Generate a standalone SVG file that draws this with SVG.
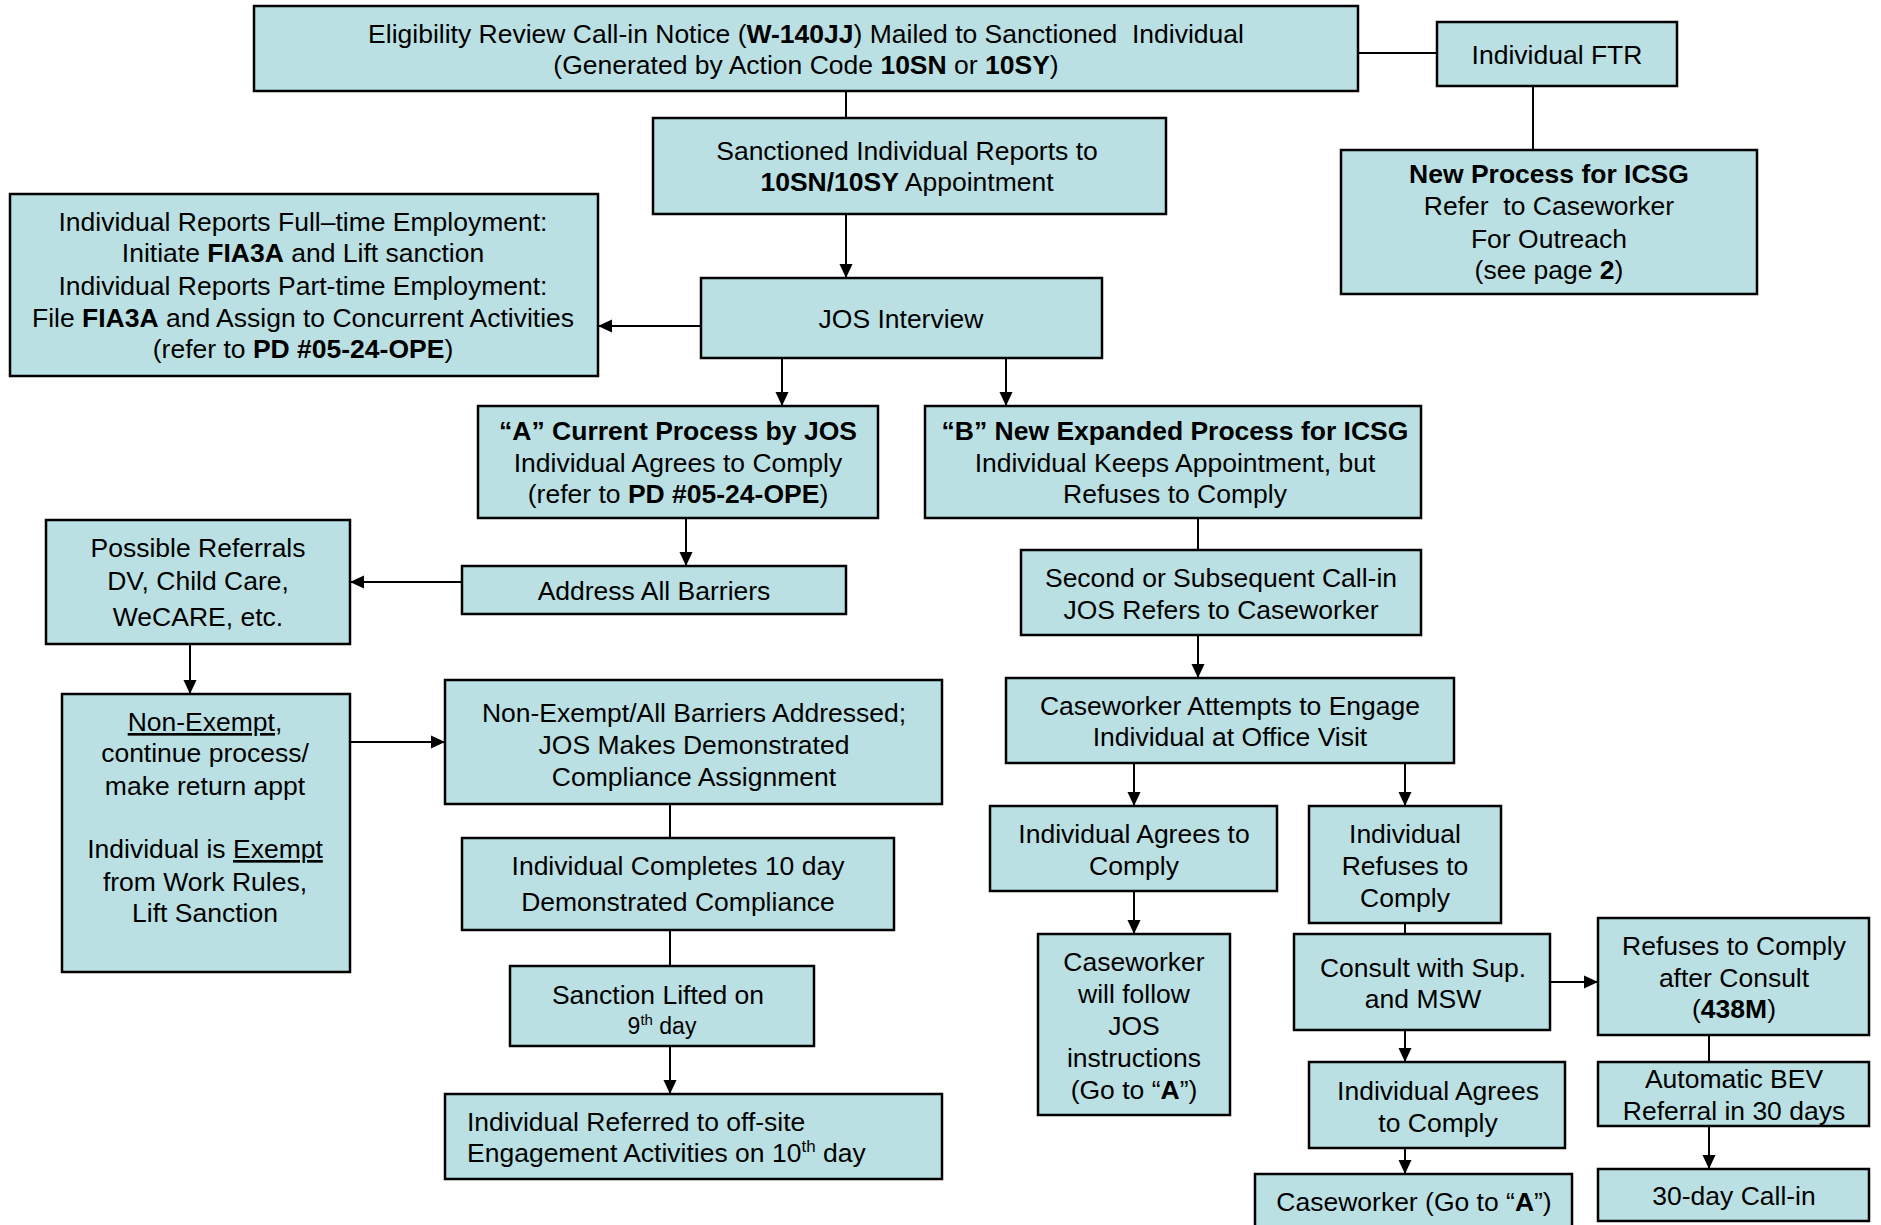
<svg xmlns="http://www.w3.org/2000/svg" width="1881" height="1225" viewBox="0 0 1881 1225">
<defs>
<style>
.b{fill:#BBE0E3;stroke:#000;stroke-width:2.5}
.t{font-family:"Liberation Sans",Arial,sans-serif;font-size:26.5px;fill:#000;text-anchor:middle}
.l{text-anchor:start}
.bd{font-weight:bold}
.c{stroke:#000;stroke-width:2;fill:none}
.u{text-decoration:underline}
</style>
<marker id="ah" viewBox="0 0 14 14" refX="14" refY="7" markerWidth="14" markerHeight="14" markerUnits="userSpaceOnUse" orient="auto">
<path d="M0,0.5 L14,7 L0,13.5 z" fill="#000"/>
</marker>
</defs>
<rect width="1881" height="1225" fill="#fff"/>

<g id="connectors">
<line class="c" x1="1358" y1="53" x2="1437" y2="53"/>
<line class="c" x1="1533" y1="86" x2="1533" y2="150"/>
<line class="c" x1="846" y1="91" x2="846" y2="118"/>
<line class="c" x1="846" y1="214" x2="846" y2="278" marker-end="url(#ah)"/>
<line class="c" x1="701" y1="326" x2="598" y2="326" marker-end="url(#ah)"/>
<line class="c" x1="782" y1="358" x2="782" y2="406" marker-end="url(#ah)"/>
<line class="c" x1="1006" y1="358" x2="1006" y2="406" marker-end="url(#ah)"/>
<line class="c" x1="686" y1="518" x2="686" y2="566" marker-end="url(#ah)"/>
<line class="c" x1="462" y1="582" x2="350" y2="582" marker-end="url(#ah)"/>
<line class="c" x1="190" y1="644" x2="190" y2="694" marker-end="url(#ah)"/>
<line class="c" x1="350" y1="742" x2="445" y2="742" marker-end="url(#ah)"/>
<line class="c" x1="670" y1="804" x2="670" y2="838"/>
<line class="c" x1="670" y1="930" x2="670" y2="966"/>
<line class="c" x1="670" y1="1046" x2="670" y2="1094" marker-end="url(#ah)"/>
<line class="c" x1="1198" y1="518" x2="1198" y2="550"/>
<line class="c" x1="1198" y1="635" x2="1198" y2="678" marker-end="url(#ah)"/>
<line class="c" x1="1134" y1="763" x2="1134" y2="806" marker-end="url(#ah)"/>
<line class="c" x1="1405" y1="763" x2="1405" y2="806" marker-end="url(#ah)"/>
<line class="c" x1="1134" y1="891" x2="1134" y2="934" marker-end="url(#ah)"/>
<line class="c" x1="1405" y1="923" x2="1405" y2="934"/>
<line class="c" x1="1550" y1="982" x2="1598" y2="982" marker-end="url(#ah)"/>
<line class="c" x1="1709" y1="1035" x2="1709" y2="1062"/>
<line class="c" x1="1709" y1="1126" x2="1709" y2="1169" marker-end="url(#ah)"/>
<line class="c" x1="1405" y1="1030" x2="1405" y2="1062" marker-end="url(#ah)"/>
<line class="c" x1="1405" y1="1148" x2="1405" y2="1174" marker-end="url(#ah)"/>
</g>

<g id="n-notice">
<rect class="b" x="254" y="6" width="1104" height="85"/>
<text class="t" x="806" y="43" xml:space="preserve">Eligibility Review Call-in Notice (<tspan class="bd">W-140JJ</tspan>) Mailed to Sanctioned  Individual</text>
<text class="t" x="806" y="74">(Generated by Action Code <tspan class="bd">10SN</tspan> or <tspan class="bd">10SY</tspan>)</text>
</g>

<g id="n-ftr">
<rect class="b" x="1437" y="22" width="240" height="64"/>
<text class="t" x="1557" y="64">Individual FTR</text>
</g>

<g id="n-newprocess">
<rect class="b" x="1341" y="150" width="416" height="144"/>
<text class="t bd" x="1549" y="183">New Process for ICSG</text>
<text class="t" x="1549" y="215" xml:space="preserve">Refer  to Caseworker</text>
<text class="t" x="1549" y="248">For Outreach</text>
<text class="t" x="1549" y="279">(see page <tspan class="bd">2</tspan>)</text>
</g>

<g id="n-sanctioned">
<rect class="b" x="653" y="118" width="513" height="96"/>
<text class="t" x="907" y="160">Sanctioned Individual Reports to</text>
<text class="t" x="907" y="191"><tspan class="bd">10SN/10SY</tspan> Appointment</text>
</g>

<g id="n-jos">
<rect class="b" x="701" y="278" width="401" height="80"/>
<text class="t" x="901" y="328">JOS Interview</text>
</g>

<g id="n-employment">
<rect class="b" x="10" y="194" width="588" height="182"/>
<text class="t" x="303" y="231">Individual Reports Full–time Employment:</text>
<text class="t" x="303" y="262">Initiate <tspan class="bd">FIA3A</tspan> and Lift sanction</text>
<text class="t" x="303" y="295">Individual Reports Part-time Employment:</text>
<text class="t" x="303" y="327">File <tspan class="bd">FIA3A</tspan> and Assign to Concurrent Activities</text>
<text class="t" x="303" y="358">(refer to <tspan class="bd">PD #05-24-OPE</tspan>)</text>
</g>

<g id="n-a">
<rect class="b" x="478" y="406" width="400" height="112"/>
<text class="t bd" x="678" y="440">“A” Current Process by JOS</text>
<text class="t" x="678" y="472">Individual Agrees to Comply</text>
<text class="t" x="678" y="503">(refer to <tspan class="bd">PD #05-24-OPE</tspan>)</text>
</g>

<g id="n-b">
<rect class="b" x="925" y="406" width="496" height="112"/>
<text class="t bd" x="1175" y="440">“B” New Expanded Process for ICSG</text>
<text class="t" x="1175" y="472">Individual Keeps Appointment, but</text>
<text class="t" x="1175" y="503">Refuses to Comply</text>
</g>

<g id="n-barriers">
<rect class="b" x="462" y="566" width="384" height="48"/>
<text class="t" x="654" y="600">Address All Barriers</text>
</g>

<g id="n-referrals">
<rect class="b" x="46" y="520" width="304" height="124"/>
<text class="t" x="198" y="557">Possible Referrals</text>
<text class="t" x="198" y="590">DV, Child Care,</text>
<text class="t" x="198" y="626">WeCARE, etc.</text>
</g>

<g id="n-exempt">
<rect class="b" x="62" y="694" width="288" height="278"/>
<text class="t" x="205" y="731"><tspan class="u">Non-Exempt</tspan>,</text>
<text class="t" x="205" y="762">continue process/</text>
<text class="t" x="205" y="795">make return appt</text>
<text class="t" x="205" y="858">Individual is <tspan class="u">Exempt</tspan></text>
<text class="t" x="205" y="891">from Work Rules,</text>
<text class="t" x="205" y="922">Lift Sanction</text>
</g>

<g id="n-dcassign">
<rect class="b" x="445" y="680" width="497" height="124"/>
<text class="t" x="694" y="722">Non-Exempt/All Barriers Addressed;</text>
<text class="t" x="694" y="754">JOS Makes Demonstrated</text>
<text class="t" x="694" y="786">Compliance Assignment</text>
</g>

<g id="n-completes">
<rect class="b" x="462" y="838" width="432" height="92"/>
<text class="t" x="678" y="875">Individual Completes 10 day</text>
<text class="t" x="678" y="911">Demonstrated Compliance</text>
</g>

<g id="n-lifted">
<rect class="b" x="510" y="966" width="304" height="80"/>
<text class="t" x="658" y="1004">Sanction Lifted on</text>
<text class="t" x="662" y="1034" style="font-size:23px">9<tspan dy="-9" style="font-size:15px">th</tspan><tspan dy="9"> day</tspan></text>
</g>

<g id="n-offsite">
<rect class="b" x="445" y="1094" width="497" height="85"/>
<text class="t l" x="467" y="1131">Individual Referred to off-site</text>
<text class="t l" x="467" y="1162">Engagement Activities on 10<tspan dy="-10" style="font-size:17px">th</tspan><tspan dy="10"> day</tspan></text>
</g>

<g id="n-second">
<rect class="b" x="1021" y="550" width="400" height="85"/>
<text class="t" x="1221" y="587">Second or Subsequent Call-in</text>
<text class="t" x="1221" y="619">JOS Refers to Caseworker</text>
</g>

<g id="n-engage">
<rect class="b" x="1006" y="678" width="448" height="85"/>
<text class="t" x="1230" y="715">Caseworker Attempts to Engage</text>
<text class="t" x="1230" y="746">Individual at Office Visit</text>
</g>

<g id="n-agrees1">
<rect class="b" x="990" y="806" width="287" height="85"/>
<text class="t" x="1134" y="843">Individual Agrees to</text>
<text class="t" x="1134" y="875">Comply</text>
</g>

<g id="n-refuses">
<rect class="b" x="1309" y="806" width="192" height="117"/>
<text class="t" x="1405" y="843">Individual</text>
<text class="t" x="1405" y="875">Refuses to</text>
<text class="t" x="1405" y="907">Comply</text>
</g>

<g id="n-follow">
<rect class="b" x="1038" y="934" width="192" height="181"/>
<text class="t" x="1134" y="971">Caseworker</text>
<text class="t" x="1134" y="1003">will follow</text>
<text class="t" x="1134" y="1035">JOS</text>
<text class="t" x="1134" y="1067">instructions</text>
<text class="t" x="1134" y="1099">(Go to “<tspan class="bd">A</tspan>”)</text>
</g>

<g id="n-consult">
<rect class="b" x="1294" y="934" width="256" height="96"/>
<text class="t" x="1423" y="977">Consult with Sup.</text>
<text class="t" x="1423" y="1008">and MSW</text>
</g>

<g id="n-refuses2">
<rect class="b" x="1598" y="918" width="271" height="117"/>
<text class="t" x="1734" y="955">Refuses to Comply</text>
<text class="t" x="1734" y="987">after Consult</text>
<text class="t" x="1734" y="1018">(<tspan class="bd">438M</tspan>)</text>
</g>

<g id="n-bev">
<rect class="b" x="1598" y="1062" width="271" height="64"/>
<text class="t" x="1734" y="1088">Automatic BEV</text>
<text class="t" x="1734" y="1120">Referral in 30 days</text>
</g>

<g id="n-callin">
<rect class="b" x="1598" y="1169" width="271" height="52"/>
<text class="t" x="1734" y="1205">30-day Call-in</text>
</g>

<g id="n-agrees2">
<rect class="b" x="1309" y="1062" width="256" height="86"/>
<text class="t" x="1438" y="1100">Individual Agrees</text>
<text class="t" x="1438" y="1132">to Comply</text>
</g>

<g id="n-gotoa">
<rect class="b" x="1255" y="1174" width="317" height="60"/>
<text class="t" x="1414" y="1211">Caseworker (Go to “<tspan class="bd">A</tspan>”)</text>
</g>
</svg>
